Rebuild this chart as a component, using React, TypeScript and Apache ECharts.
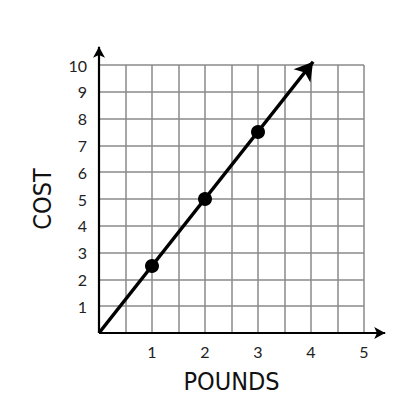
import React, { useEffect, useRef } from "react";
import * as echarts from "echarts";

const pounds = [1, 2, 3];
const cost = [2.5, 5, 7.5];
const lineStart = [0, 0];
const lineEnd = [4.04, 10.12];
const xTicks = [1, 2, 3, 4, 5];
const yTicks = [1, 2, 3, 4, 5, 6, 7, 8, 9, 10];
const xMax = 5;
const yMax = 10;
const xArrowEnd = 5.4;
const yArrowEnd = 10.68;

export default function App() {
  const ref = useRef<HTMLDivElement>(null);
  useEffect(() => {
    document.body.style.margin = "0";
    const chart = echarts.init(ref.current!, null, { renderer: "svg" });
    const labelFont = "Lato, 'Open Sans', sans-serif";
    const nameFont = "'DejaVu Sans Condensed', 'Noto Sans', sans-serif";
    const left = 99;
    const top = 65;
    const w = 265;
    const h = 268;
    const bottom = top + h;
    const w2 = (w * xArrowEnd) / xMax;
    const h2 = (h * yArrowEnd) / yMax;
    chart.setOption({
      animation: false,
      backgroundColor: "#ffffff",
      grid: [
        { left, top, width: w, height: h },
        { left, top: bottom - h2, width: w2, height: h2 },
      ],
      xAxis: [
        {
          type: "value",
          gridIndex: 0,
          min: 0,
          max: xMax,
          interval: 0.5,
          name: "POUNDS",
          nameLocation: "middle",
          nameGap: 36,
          nameTextStyle: { fontSize: 25, color: "#111", fontFamily: nameFont },
          axisLine: { show: false },
          axisTick: { show: false },
          splitLine: { show: true, lineStyle: { color: "#8a8a8a", width: 1.5 } },
          axisLabel: {
            margin: 10,
            fontSize: 16,
            color: "#222",
            fontFamily: labelFont,
            formatter: (v: number) => (xTicks.includes(v) ? String(v) : ""),
          },
        },
        { type: "value", gridIndex: 1, min: 0, max: xArrowEnd, show: false },
      ],
      yAxis: [
        {
          type: "value",
          gridIndex: 0,
          min: 0,
          max: yMax,
          interval: 1,
          name: "COST",
          nameLocation: "middle",
          nameGap: 44,
          nameRotate: 90,
          nameTextStyle: { fontSize: 25, color: "#111", fontFamily: nameFont },
          axisLine: { show: false },
          axisTick: { show: false },
          splitLine: { show: true, lineStyle: { color: "#8a8a8a", width: 1.5 } },
          axisLabel: {
            margin: 12,
            fontSize: 16,
            color: "#222",
            fontFamily: labelFont,
            formatter: (v: number) => (yTicks.includes(v) ? String(v) : ""),
          },
        },
        { type: "value", gridIndex: 1, min: 0, max: yArrowEnd, show: false },
      ],
      series: [
        {
          type: "line",
          xAxisIndex: 1,
          yAxisIndex: 1,
          clip: false,
          data: [],
          markLine: {
            silent: true,
            animation: false,
            label: { show: false },
            symbol: ["none", "arrow"],
            data: [
              [
                { coord: [0, 0], symbol: "none", lineStyle: { type: "solid", color: "#000", width: 2.2, opacity: 1 } },
                { coord: [xArrowEnd, 0], symbol: "arrow", symbolSize: [9, 11] },
              ],
              [
                { coord: [0, 0], symbol: "none", lineStyle: { type: "solid", color: "#000", width: 2.2, opacity: 1 } },
                { coord: [0, yArrowEnd], symbol: "arrow", symbolSize: [9, 11] },
              ],
              [
                { coord: lineStart, symbol: "none", lineStyle: { type: "solid", color: "#000", width: 3.5, opacity: 1 } },
                { coord: lineEnd, symbol: "arrow", symbolSize: [16, 18] },
              ],
            ],
          },
        },
        {
          type: "scatter",
          xAxisIndex: 0,
          yAxisIndex: 0,
          clip: false,
          data: pounds.map((p, i) => [p, cost[i]]),
          symbol: "circle",
          symbolSize: 14,
          itemStyle: { color: "#000", opacity: 1 },
          z: 5,
        },
      ],
    });
    return () => chart.dispose();
  }, []);
  return <div ref={ref} style={{ width: 418, height: 420 }} />;
}
